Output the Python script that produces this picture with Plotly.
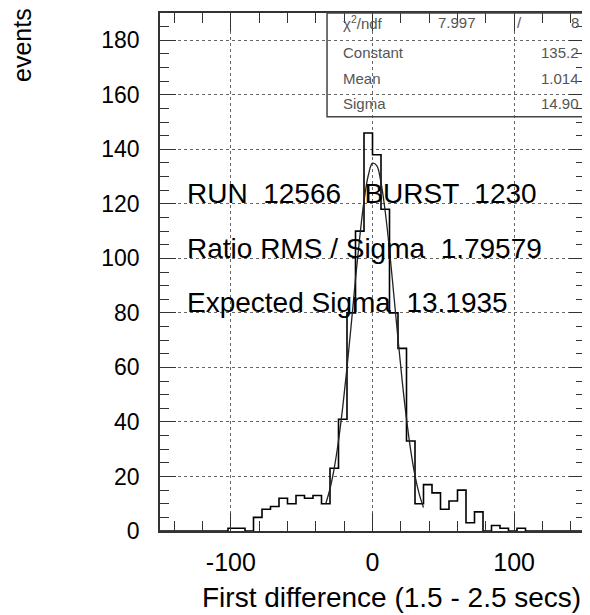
import numpy as np
import plotly.graph_objects as go

# histogram: 50 bins of width 6 from -150 to 150
x_lo = -150
x_hi = 150
bin_w = 6
counts = [0, 0, 0, 0, 0, 0, 0, 0, 1, 1,
          0, 5, 8, 9, 12, 10, 13, 12, 13, 10,
          23, 41, 80, 110, 146, 138, 118, 80, 67, 33,
          10, 17, 14, 8, 11, 15, 3, 7, 0, 2,
          1, 0, 1, 0, 0, 0, 0, 0, 0, 0]

# gaussian fit curve
fit_x = [-33, -30, -27, -24, -21, -18, -15, -12, -9, -6, -3, 0,
         3, 6, 9, 12, 15, 18, 21, 24, 27, 30, 33, 36]
fit_y = [10.0, 15.5, 23.1, 33.1, 45.5, 59.9, 75.8, 92.4, 107.8, 121.0, 130.4, 134.9,
         134.0, 127.8, 117.1, 103.0, 86.9, 70.5, 54.9, 41.1, 29.5, 20.3, 13.5, 8.6]

x_ticks = [-100, 0, 100]
x_ticktext = ["-100", "0", "100"]

stat_labels = ["Constant", "Mean", "Sigma"]
stat_values = ["135.2", "1.014", "14.90"]
chi2 = "7.997"
ndf = "8"

info_lines = ["RUN  12566   BURST  1230",
              "Ratio RMS / Sigma  1.79579",
              "Expected Sigma  13.1935"]

edges = np.arange(x_lo, x_hi + bin_w, bin_w)
FONT = "Liberation Sans, Arial, sans-serif"

fig = go.Figure()
fig.add_trace(go.Scatter(
    x=edges, y=counts + [counts[-1]],
    mode="lines", line=dict(shape="hv", color="black", width=1.6),
    hoverinfo="skip"))
fig.add_trace(go.Scatter(
    x=fit_x, y=fit_y,
    mode="lines", line=dict(shape="spline", color="#222", width=1.3),
    hoverinfo="skip"))

ann = []
for i, t in enumerate(info_lines):
    ann.append(dict(x=0.058, y=[0.651, 0.545, 0.441][i], xref="paper", yref="paper",
                    text=t, showarrow=False, xanchor="left", yanchor="middle",
                    font=dict(size=28, color="black", family=FONT)))

sfont = dict(size=15, color="#555", family=FONT)
ann.append(dict(x=0.425, y=0.981, xref="paper", yref="paper", text="χ<sup>2</sup>/ndf",
                showarrow=False, xanchor="left", yanchor="middle", font=sfont))
ann.append(dict(x=0.698, y=0.981, xref="paper", yref="paper", text=chi2,
                showarrow=False, xanchor="center", yanchor="middle", font=sfont))
ann.append(dict(x=0.845, y=0.981, xref="paper", yref="paper", text="/",
                showarrow=False, xanchor="center", yanchor="middle", font=sfont))
ann.append(dict(x=0.99, y=0.981, xref="paper", yref="paper", text=ndf,
                showarrow=False, xanchor="right", yanchor="middle", font=sfont))
for i, (lab, val) in enumerate(zip(stat_labels, stat_values)):
    yy = [0.923, 0.873, 0.825][i]
    ann.append(dict(x=0.425, y=yy, xref="paper", yref="paper", text=lab,
                    showarrow=False, xanchor="left", yanchor="middle", font=sfont))
    ann.append(dict(x=0.99, y=yy, xref="paper", yref="paper", text=val,
                    showarrow=False, xanchor="right", yanchor="middle", font=sfont))

# axis titles
ann.append(dict(x=0.995, y=-0.129, xref="paper", yref="paper",
                text="First difference (1.5 - 2.5 secs)", showarrow=False,
                xanchor="right", yanchor="middle",
                font=dict(size=28, color="black", family=FONT)))
ann.append(dict(x=-0.323, y=1.013, xref="paper", yref="paper", text="events",
                showarrow=False, textangle=-90, xanchor="center", yanchor="top",
                font=dict(size=25, color="black", family=FONT)))

# page body adds 8px offset, so figure is a bit smaller than the window
fig.update_layout(
    width=582, height=607,
    margin=dict(l=152, r=3, t=4, b=84),
    paper_bgcolor="white", plot_bgcolor="white",
    showlegend=False,
    font=dict(family=FONT, color="black"),
    annotations=ann,
    shapes=[dict(type="rect", xref="paper", yref="paper",
                 x0=0.393, x1=1.0, y0=0.7996, y1=1.0,
                 line=dict(color="#444", width=1.5))],
)

fig.update_xaxes(
    range=[x_lo, x_hi], tickvals=x_ticks, ticktext=x_ticktext,
    showline=True, mirror="ticks", linecolor="#333", linewidth=1.5,
    ticks="inside", ticklen=18, tickcolor="#333", tickwidth=1.2,
    minor=dict(dtick=20, tick0=0, ticks="inside", ticklen=10, tickcolor="#333", showgrid=False),
    showgrid=True, gridcolor="#666", griddash="dot", gridwidth=1,
    zeroline=False, ticklabelstandoff=8,
    tickfont=dict(size=25, family=FONT, color="black"))
fig.update_yaxes(
    range=[0, 190], dtick=20, tick0=0,
    showline=True, mirror="ticks", linecolor="#333", linewidth=1.5,
    ticks="inside", ticklen=16, tickcolor="#333", tickwidth=1.2,
    minor=dict(dtick=5, tick0=0, ticks="inside", ticklen=9, tickcolor="#333", showgrid=False),
    showgrid=True, gridcolor="#666", griddash="dot", gridwidth=1,
    zeroline=False, ticklabelstandoff=14,
    tickfont=dict(size=23, family=FONT, color="black"))

fig.write_html("out.html")
